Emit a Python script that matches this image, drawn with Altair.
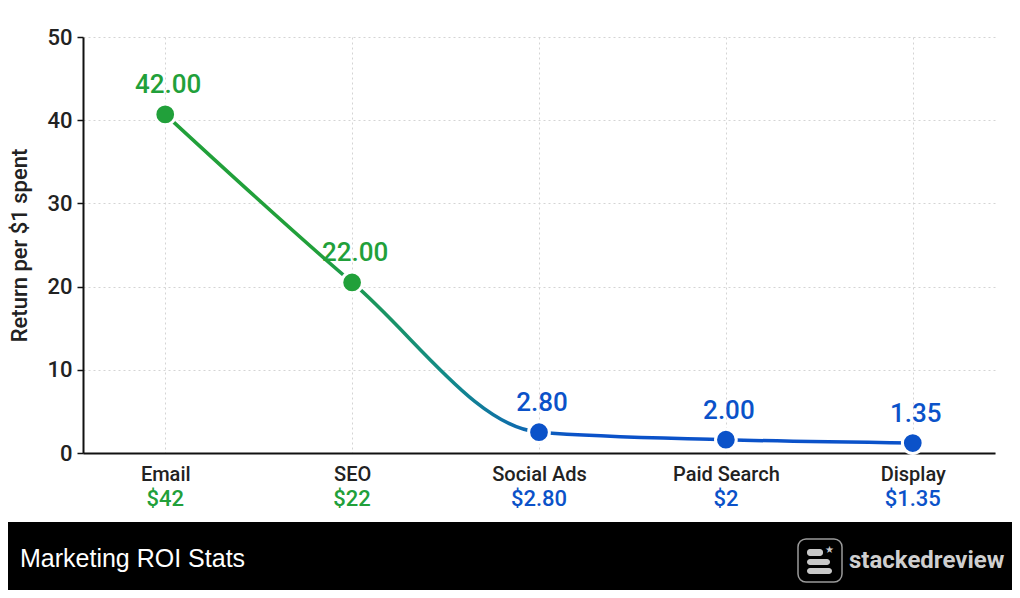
import altair as alt
import pandas as pd

channels = ["Email", "SEO", "Social Ads", "Paid Search", "Display"]
roi = [42.0, 22.0, 2.8, 2.0, 1.35]
# heights at which the dots sit in the picture (a little under the printed values)
plotted = [40.7, 20.5, 2.5, 1.6, 1.2]
value_labels = ["42.00", "22.00", "2.80", "2.00", "1.35"]
dollar_labels = ["$42", "$22", "$2.80", "$2", "$1.35"]
tiers = ["high", "high", "low", "low", "low"]
y_ticks = [0, 10, 20, 30, 40, 50]

GREEN = "#21a03a"
BLUE = "#0b52c9"
FONT = "Roboto"

frame = pd.DataFrame(
    {
        "channel": channels,
        "roi": roi,
        "plotted": plotted,
        "value_label": value_labels,
        "dollar_label": dollar_labels,
        "tier": tiers,
    }
)
one = pd.DataFrame({"k": [0]})

W, H = 912, 416

x_enc = alt.X(
    "channel:N",
    sort=channels,
    title=None,
    scale=alt.Scale(type="point", padding=0.44),
    axis=alt.Axis(
        labelAngle=0,
        labelFontSize=20,
        labelFont=FONT,
        labelFontWeight=500,
        labelColor="#222222",
        labelPadding=11,
        ticks=False,
        domainColor="#111111",
        domainWidth=2,
        grid=True,
        gridColor="#d4d4d4",
        gridDash=[2, 3],
    ),
)
y_enc = alt.Y(
    "plotted:Q",
    title="Return per $1 spent",
    scale=alt.Scale(domain=[0, 50], nice=False),
    axis=alt.Axis(
        values=y_ticks,
        labelFontSize=22,
        labelFont=FONT,
        labelFontWeight=500,
        labelColor="#222222",
        labelPadding=5,
        tickSize=6,
        tickColor="#111111",
        tickWidth=1.5,
        domainColor="#111111",
        domainWidth=2,
        gridColor="#d4d4d4",
        gridDash=[2, 3],
        titleFont=FONT,
        titleFontSize=22,
        titleFontWeight=500,
        titleColor="#222222",
        titlePadding=15,
    ),
)
tier_color = alt.Color(
    "tier:N", scale=alt.Scale(domain=["high", "low"], range=[GREEN, BLUE]), legend=None
)

base = alt.Chart(frame).encode(x=x_enc)

line = base.mark_line(
    interpolate="monotone",
    strokeWidth=3.5,
    color=alt.Gradient(
        gradient="linear",
        stops=[
            alt.GradientStop(color=GREEN, offset=0),
            alt.GradientStop(color=GREEN, offset=0.2),
            alt.GradientStop(color="#128a8a", offset=0.38),
            alt.GradientStop(color=BLUE, offset=0.55),
            alt.GradientStop(color=BLUE, offset=1),
        ],
        x1=0,
        x2=1,
        y1=0,
        y2=0,
    ),
).encode(y=y_enc)

dots = base.mark_circle(size=430, opacity=1, stroke="white", strokeWidth=3).encode(
    y="plotted:Q", color=tier_color, tooltip=["channel:N", "roi:Q"]
)

value_text = base.mark_text(
    font=FONT, fontSize=26, fontWeight=500, dy=-29, dx=3, baseline="middle"
).encode(y="plotted:Q", text="value_label:N", color=tier_color)

dollar_text = base.mark_text(
    font=FONT, fontSize=22, fontWeight=500, baseline="middle"
).encode(y=alt.value(H + 46), text="dollar_label:N", color=tier_color)

# footer band with title and brand
footer = alt.Chart(one).mark_rect(color="black").encode(
    x=alt.value(-75), x2=alt.value(W + 17), y=alt.value(H + 69), y2=alt.value(H + 137)
)
footer_title = alt.Chart(one).mark_text(
    text="Marketing ROI Stats", font="Liberation Sans", fontSize=25, color="white",
    align="left", baseline="middle",
).encode(x=alt.value(-63), y=alt.value(H + 106))
logo_box = alt.Chart(one).mark_rect(
    fill="black", stroke="#9a9a9a", strokeWidth=1.5, cornerRadius=8
).encode(x=alt.value(715), x2=alt.value(759), y=alt.value(H + 86), y2=alt.value(H + 129))
logo_bars = pd.DataFrame(
    {"x0": [724, 724, 724], "x1": [740, 747, 749], "y0": [512, 522, 531], "y1": [519, 528, 537]}
)
bars = alt.Chart(logo_bars).mark_rect(color="#c8c8c8", cornerRadius=3).encode(
    x=alt.X("x0:Q", scale=None), x2="x1:Q", y=alt.Y("y0:Q", scale=None), y2="y1:Q"
)
star = alt.Chart(one).mark_text(
    text="★", fontSize=10, color="#c8c8c8", baseline="middle"
).encode(x=alt.value(746), y=alt.value(513))
brand = alt.Chart(one).mark_text(
    text="stackedreview", font=FONT, fontSize=24, fontWeight="bold", color="#cfcfcf",
    align="left", baseline="middle",
).encode(x=alt.value(766), y=alt.value(H + 108))

chart = (
    alt.layer(line, dots, value_text, dollar_text, footer, footer_title, logo_box, bars, star, brand)
    .properties(
        width=W,
        height=H,
        autosize=alt.AutoSizeParams(type="none"),
        padding={"left": 75, "top": 29, "right": 17, "bottom": 137},
        background="white",
    )
    .configure_view(stroke=None)
)

chart.save("out.html", embed_options={"renderer": "svg", "actions": False})
